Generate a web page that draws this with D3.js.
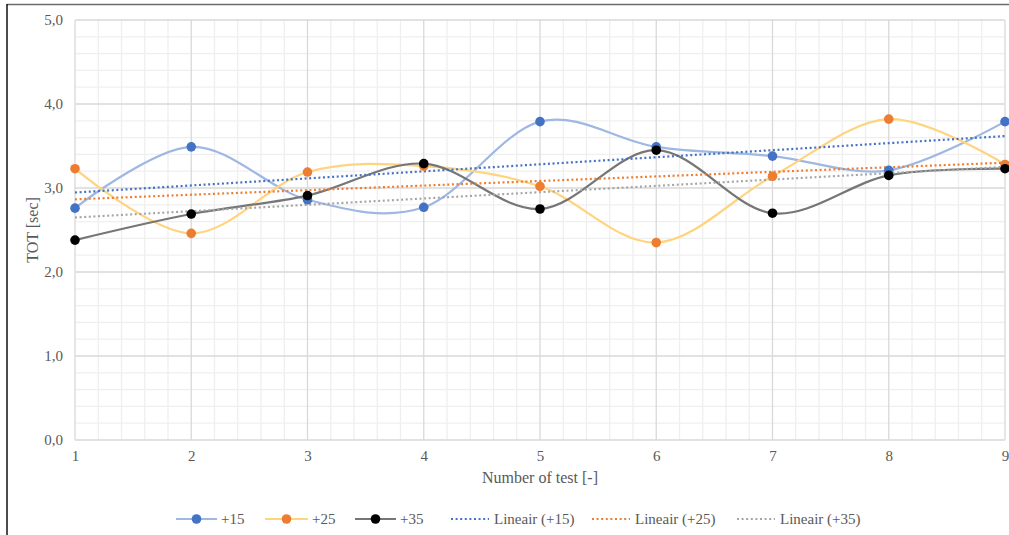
<!DOCTYPE html>
<html>
<head>
<meta charset="utf-8">
<script src="https://cdn.jsdelivr.net/npm/d3@7"></script>
<style>
  html, body { margin: 0; padding: 0; background: #fff; }
  svg { display: block; font-family: "Liberation Serif", "Times New Roman", serif; }
</style>
</head>
<body>
<svg id="chart" width="1009" height="535"></svg>
<script>
// Test numbers on the x axis
const tests = [1, 2, 3, 4, 5, 6, 7, 8, 9];
// TOT measurements [sec] per offset
const tot15 = [2.76, 3.49, 2.86, 2.77, 3.79, 3.49, 3.38, 3.21, 3.79];
const tot25 = [3.23, 2.46, 3.19, 3.26, 3.02, 2.35, 3.14, 3.82, 3.28];
const tot35 = [2.38, 2.69, 2.91, 3.29, 2.75, 3.45, 2.70, 3.15, 3.23];
// Axis tick labels
const yTicks = [0, 1, 2, 3, 4, 5];
const seriesNames = ["+15", "+25", "+35"];
const trendNames = ["Lineair (+15)", "Lineair (+25)", "Lineair (+35)"];

const svg = d3.select("#chart");
const W = 1009, H = 535;
const plot = { left: 75, right: 1005, top: 20, bottom: 440 };

// Outer frame (top and left edges)
svg.append("line").attr("x1", 7).attr("x2", W).attr("y1", 4.5).attr("y2", 4.5)
  .attr("stroke", "#6b6b6b").attr("stroke-width", 1.5);
svg.append("line").attr("x1", 7).attr("x2", 7).attr("y1", 4).attr("y2", H)
  .attr("stroke", "#111").attr("stroke-width", 1.5);

const x = d3.scaleLinear().domain([1, 9]).range([plot.left, plot.right]);
const y = d3.scaleLinear().domain([0, 5]).range([plot.bottom, plot.top]);

const g = svg.append("g");

// Minor grid (every 0.2)
const minorX = d3.range(1, 9.0001, 0.2).filter(v => Math.abs(v - Math.round(v)) > 1e-6);
const minorY = d3.range(0, 5.0001, 0.2).filter(v => Math.abs(v - Math.round(v)) > 1e-6);
g.selectAll(".mx").data(minorX).join("line")
  .attr("x1", d => x(d)).attr("x2", d => x(d)).attr("y1", plot.top).attr("y2", plot.bottom)
  .attr("stroke", "#efefef").attr("stroke-width", 1.3);
g.selectAll(".my").data(minorY).join("line")
  .attr("x1", plot.left).attr("x2", plot.right).attr("y1", d => y(d)).attr("y2", d => y(d))
  .attr("stroke", "#efefef").attr("stroke-width", 1.3);

// Major grid
g.selectAll(".Mx").data(tests).join("line")
  .attr("x1", d => x(d)).attr("x2", d => x(d)).attr("y1", plot.top).attr("y2", plot.bottom)
  .attr("stroke", "#d9d9d9").attr("stroke-width", 1.3);
g.selectAll(".My").data(yTicks).join("line")
  .attr("x1", plot.left).attr("x2", plot.right).attr("y1", d => y(d)).attr("y2", d => y(d))
  .attr("stroke", "#d9d9d9").attr("stroke-width", 1.3);

// Axes (labels only)
const fmt = d => d3.format(".1f")(d).replace(".", ",");
const yAxis = g.append("g").attr("transform", `translate(${plot.left},0)`)
  .call(d3.axisLeft(y).tickValues(yTicks).tickFormat(fmt).tickSize(0).tickPadding(12));
const xAxis = g.append("g").attr("transform", `translate(0,${plot.bottom})`)
  .call(d3.axisBottom(x).tickValues(tests).tickFormat(d3.format("d")).tickSize(0).tickPadding(10));
[yAxis, xAxis].forEach(a => {
  a.select(".domain").remove();
  a.selectAll("text").attr("fill", "#595959").style("font-size", "15px")
    .style("font-family", "'Liberation Serif', serif");
});

// Axis titles
svg.append("text").attr("transform", "translate(38,230) rotate(-90)")
  .attr("text-anchor", "middle").attr("fill", "#595959").style("font-size", "16px")
  .text("TOT [sec]");
svg.append("text").attr("x", 540).attr("y", 483)
  .attr("text-anchor", "middle").attr("fill", "#595959").style("font-size", "16px")
  .text("Number of test [-]");

const series = [
  { name: seriesNames[0], values: tot15, line: "#9fb7e3", marker: "#4472c4", trend: "#4472c4" },
  { name: seriesNames[1], values: tot25, line: "#ffd47f", marker: "#ed7d31", trend: "#ed7d31" },
  { name: seriesNames[2], values: tot35, line: "#767676", marker: "#000000", trend: "#a5a5a5" }
];

// Least-squares trend line of a series
function linearFit(xs, ys) {
  const mx = d3.mean(xs), my = d3.mean(ys);
  const b = d3.sum(xs, (v, i) => (v - mx) * (ys[i] - my)) / d3.sum(xs, v => (v - mx) ** 2);
  return v => my + b * (v - mx);
}

const smooth = d3.line().x(d => x(d[0])).y(d => y(d[1])).curve(d3.curveCardinal.tension(0));

// Smoothed series lines
series.forEach(s => {
  g.append("path").datum(tests.map((t, i) => [t, s.values[i]]))
    .attr("d", smooth).attr("fill", "none")
    .attr("stroke", s.line).attr("stroke-width", 2.2);
});

// Dotted trend lines
series.forEach(s => {
  const f = linearFit(tests, s.values);
  g.append("line")
    .attr("x1", x(1)).attr("y1", y(f(1))).attr("x2", x(9)).attr("y2", y(f(9)))
    .attr("stroke", s.trend).attr("stroke-width", 2.2)
    .attr("stroke-dasharray", "2 2.6");
});

// Markers
series.forEach(s => {
  g.selectAll(null).data(tests.map((t, i) => [t, s.values[i]])).join("circle")
    .attr("cx", d => x(d[0])).attr("cy", d => y(d[1])).attr("r", 4.8)
    .attr("fill", s.marker);
});

// Legend
const legY = 519;
const leg = svg.append("g").style("font-size", "15px");
const legItems = [
  { x0: 176, w: 41, s: series[0], text: series[0].name },
  { x0: 265, w: 43, s: series[1], text: series[1].name },
  { x0: 355, w: 41, s: series[2], text: series[2].name }
];
legItems.forEach(it => {
  leg.append("line").attr("x1", it.x0).attr("x2", it.x0 + it.w).attr("y1", legY).attr("y2", legY)
    .attr("stroke", it.s.line).attr("stroke-width", 2.2);
  leg.append("circle").attr("cx", it.x0 + it.w / 2).attr("cy", legY).attr("r", 4.8)
    .attr("fill", it.s.marker);
  leg.append("text").attr("x", it.x0 + it.w + 4).attr("y", legY + 5)
    .attr("fill", "#595959").text(it.text);
});
const trendLeg = [
  { x0: 451, s: series[0], text: trendNames[0] },
  { x0: 592, s: series[1], text: trendNames[1] },
  { x0: 737, s: series[2], text: trendNames[2] }
];
trendLeg.forEach(it => {
  leg.append("line").attr("x1", it.x0).attr("x2", it.x0 + 38).attr("y1", legY).attr("y2", legY)
    .attr("stroke", it.s.trend).attr("stroke-width", 2).attr("stroke-dasharray", "2 2.6");
  leg.append("text").attr("x", it.x0 + 43).attr("y", legY + 5)
    .attr("fill", "#595959").text(it.text);
});
</script>
</body>
</html>
